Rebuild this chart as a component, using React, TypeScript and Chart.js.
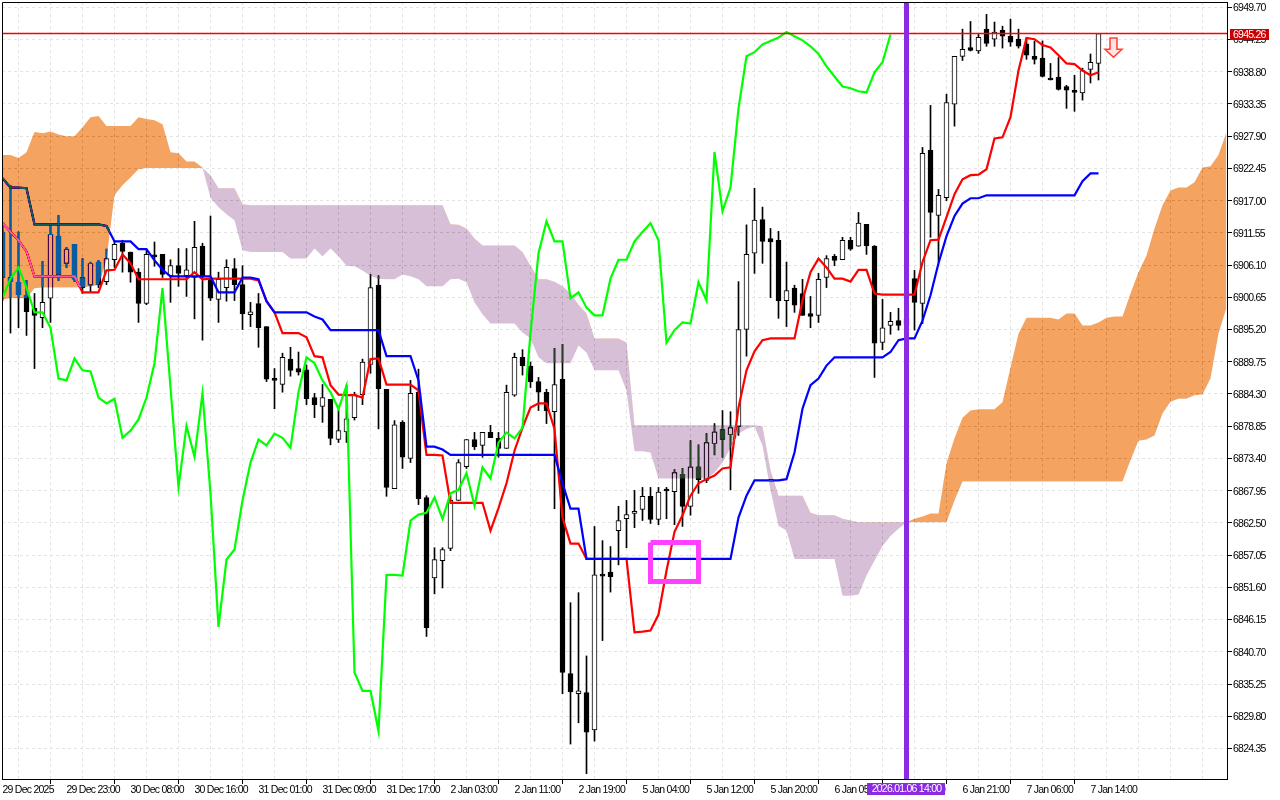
// App.tsx - ichimoku candle chart in a terminal look
import React, { useEffect, useRef } from 'react';
import { Chart, registerables } from 'chart.js';

Chart.register(...registerables);

const opens = [
  6911.7,6904.0,6903.2,6901.0,6898.8,6897.2,6900.5,6911.0,6906.4,6909.6,
  6904.0,6902.7,6906.6,6903.3,6907.0,6909.8,6908.3,6904.9,6899.6,6907.6,
  6907.9,6904.3,6906.0,6904.3,6904.0,6909.3,6903.8,6900.3,6902.3,6905.5,
  6902.8,6897.7,6899.6,6895.7,6886.8,6885.9,6890.2,6888.6,6888.4,6883.7,
  6882.2,6883.4,6876.6,6877.9,6880.3,6884.2,6889.3,6902.7,6885.1,6868.3,
  6879.5,6873.4,6884.6,6866.8,6853.2,6856.1,6858.2,6866.3,6872.0,6876.6,
  6875.6,6877.8,6876.8,6875.1,6884.1,6890.5,6889.0,6886.4,6884.6,6881.3,
  6886.8,6837.0,6833.6,6833.8,6827.5,6853.6,6854.2,6861.2,6863.2,6864.1,
  6864.8,6867.0,6863.1,6868.1,6867.8,6870.7,6865.3,6872.0,6869.7,6875.9,
  6878.3,6877.4,6878.8,6895.2,6908.1,6913.8,6910.6,6910.3,6900.1,6902.2,
  6901.3,6897.9,6897.6,6904.0,6907.6,6907.0,6910.3,6909.3,6913.0,6909.3,
  6893.0,6895.9,6896.7,6896.0,6903.8,6899.6,6925.5,6914.5,6917.5,6933.3,
  6941.4,6942.9,6942.3,6946.0,6944.3,6945.8,6944.8,6944.3,6943.5,6941.4,
  6941.1,6937.7,6937.9,6936.3,6935.5,6935.2,6939.2,6940.2,
];
const highs = [
  6912.9,6919.6,6911.7,6903.5,6901.3,6906.7,6912.9,6914.5,6909.1,6909.6,
  6907.2,6906.6,6906.9,6908.8,6910.3,6910.3,6908.3,6905.5,6908.6,6910.0,
  6907.9,6907.0,6908.9,6908.9,6913.5,6909.8,6914.4,6904.9,6907.0,6907.2,
  6906.0,6899.8,6901.3,6895.7,6888.6,6891.2,6892.2,6891.4,6889.2,6884.4,
  6885.9,6883.4,6881.7,6885.8,6884.6,6890.2,6904.5,6904.3,6885.1,6879.8,
  6879.8,6886.6,6888.5,6867.1,6858.3,6858.3,6867.1,6873.2,6876.6,6877.8,
  6877.8,6879.0,6877.8,6885.8,6891.2,6891.8,6889.7,6887.1,6885.1,6892.0,
  6892.7,6849.0,6850.7,6840.0,6861.9,6859.5,6858.5,6865.3,6866.3,6868.0,
  6868.5,6868.5,6868.5,6868.5,6871.5,6871.7,6876.4,6875.7,6877.6,6879.3,
  6881.5,6881.3,6903.3,6912.9,6919.1,6915.9,6912.3,6911.8,6906.6,6902.7,
  6903.7,6900.8,6904.7,6907.7,6907.9,6910.8,6910.8,6915.0,6913.0,6909.4,
  6900.3,6898.1,6898.8,6899.0,6905.2,6926.0,6933.1,6918.9,6935.0,6941.4,
  6946.0,6947.3,6945.1,6948.5,6947.2,6946.5,6947.7,6946.0,6944.5,6944.0,
  6944.0,6940.2,6941.2,6936.5,6938.2,6939.4,6941.8,6945.26,
];
const lows = [
  6900.1,6894.6,6895.5,6894.2,6888.6,6895.5,6896.4,6903.5,6905.7,6903.3,
  6901.3,6901.5,6902.3,6902.8,6905.7,6904.9,6903.2,6896.4,6899.4,6905.9,
  6904.0,6899.8,6902.5,6900.8,6897.0,6893.4,6900.1,6896.4,6900.0,6900.1,
  6895.2,6895.7,6892.2,6886.4,6881.8,6884.6,6887.3,6887.5,6882.5,6880.3,
  6879.5,6875.7,6876.1,6876.1,6879.9,6882.5,6887.8,6878.4,6867.0,6868.3,
  6871.7,6872.7,6865.6,6843.3,6850.5,6851.5,6857.8,6866.3,6871.7,6874.9,
  6873.6,6876.9,6873.6,6875.1,6883.9,6887.5,6885.4,6881.5,6879.3,6864.9,
  6833.6,6825.1,6828.7,6820.1,6825.6,6842.6,6850.8,6855.4,6858.3,6861.7,
  6862.9,6862.4,6862.2,6863.2,6862.2,6861.9,6863.8,6867.5,6869.3,6874.0,
  6873.6,6868.1,6877.3,6890.7,6904.7,6906.4,6900.6,6897.1,6895.7,6898.1,
  6897.6,6895.5,6896.4,6902.3,6906.0,6907.0,6908.6,6909.3,6907.9,6887.1,
  6891.8,6894.4,6895.1,6894.0,6895.1,6896.2,6910.8,6906.6,6917.0,6929.6,
  6940.7,6942.3,6941.9,6943.1,6943.1,6942.8,6943.1,6942.8,6940.9,6940.1,
  6937.9,6937.4,6935.7,6932.6,6932.1,6934.0,6936.9,6937.4,
];
const closes = [
  6904.0,6903.3,6901.1,6898.2,6897.6,6899.8,6911.3,6904.5,6908.8,6903.7,
  6902.3,6906.4,6902.8,6907.2,6909.6,6908.4,6904.9,6899.6,6907.9,6907.5,
  6904.5,6906.0,6904.7,6905.3,6909.1,6904.3,6900.5,6903.7,6905.7,6902.8,
  6897.9,6898.2,6895.5,6886.8,6886.6,6890.5,6888.3,6888.0,6883.5,6882.5,
  6883.7,6876.8,6878.1,6880.1,6884.2,6889.7,6902.3,6885.2,6868.5,6879.1,
  6873.6,6884.4,6866.6,6844.8,6856.3,6858.0,6866.3,6872.7,6876.6,6875.4,
  6877.8,6876.9,6875.1,6884.6,6890.5,6889.1,6886.4,6884.6,6881.5,6885.9,
  6837.2,6833.9,6834.1,6827.1,6853.7,6853.5,6853.4,6862.9,6863.9,6864.4,
  6867.0,6863.1,6867.7,6867.9,6871.0,6865.3,6872.0,6869.8,6876.1,6877.9,
  6876.6,6878.6,6895.2,6907.9,6913.7,6910.1,6910.0,6900.1,6901.8,6899.3,
  6897.6,6897.4,6903.7,6907.2,6906.9,6910.3,6908.8,6913.2,6909.4,6892.9,
  6895.5,6896.6,6895.9,6897.0,6899.8,6925.0,6915.0,6917.9,6933.6,6941.4,
  6942.6,6942.4,6944.6,6943.6,6945.5,6944.8,6943.8,6943.1,6941.6,6940.9,
  6938.0,6937.4,6935.8,6935.7,6935.3,6939.0,6940.4,6945.26,
];

const tenkan = [
  6913.2,6911.7,6910.3,6908.4,6904.2,6904.2,6904.2,6904.2,6904.2,6904.2,
  6901.5,6901.5,6901.5,6905.2,6905.3,6907.9,6906.4,6903.7,6903.7,6903.7,
  6903.7,6903.7,6903.7,6903.7,6904.9,6903.7,6903.8,6903.8,6903.8,6903.8,
  6903.8,6903.8,6903.5,6900.0,6898.1,6894.6,6894.6,6894.6,6893.9,6890.7,
  6890.5,6885.8,6884.2,6884.1,6884.1,6883.7,6890.2,6890.3,6885.9,6885.9,
  6885.9,6885.9,6884.9,6874.0,6874.0,6873.9,6865.9,6865.9,6865.9,6865.9,
  6865.9,6861.2,6865.0,6869.2,6874.7,6878.6,6882.0,6882.7,6882.7,6878.4,
  6863.4,6859.0,6859.0,6856.4,6856.4,6856.4,6856.4,6856.4,6856.4,6844.0,
  6844.1,6844.3,6847.0,6854.4,6861.0,6863.8,6867.1,6869.2,6869.9,6870.5,
  6871.7,6871.9,6882.0,6888.3,6891.5,6893.4,6893.7,6893.7,6893.7,6893.7,
  6900.1,6904.9,6907.2,6905.7,6903.8,6903.8,6903.3,6905.3,6905.3,6901.3,
  6901.1,6901.1,6901.1,6901.1,6901.1,6906.6,6910.3,6910.4,6914.2,6918.1,
  6920.6,6921.3,6921.4,6922.3,6927.5,6927.7,6931.1,6939.0,6944.5,6944.3,
  6943.3,6942.9,6941.6,6940.2,6940.1,6939.0,6938.2,6938.7,
];
const kijun = [
  6920.8,6919.2,6919.2,6919.1,6913.0,6913.0,6913.0,6913.0,6913.0,6913.0,
  6913.0,6913.0,6913.0,6912.7,6910.1,6910.1,6910.1,6908.8,6908.8,6906.9,
  6905.3,6904.2,6904.2,6904.2,6904.2,6904.2,6904.2,6901.5,6901.5,6901.5,
  6904.0,6904.0,6903.7,6900.0,6898.1,6898.1,6898.1,6898.1,6898.1,6897.4,
  6896.9,6895.1,6895.1,6895.1,6895.1,6895.1,6895.1,6895.1,6890.7,6890.7,
  6890.7,6890.7,6886.6,6875.4,6875.4,6874.9,6874.0,6874.0,6874.0,6874.0,
  6874.0,6874.0,6874.0,6874.0,6874.0,6874.0,6874.0,6874.0,6874.0,6874.0,
  6869.2,6864.9,6864.9,6856.4,6856.4,6856.4,6856.4,6856.4,6856.4,6856.4,
  6856.4,6856.4,6856.4,6856.4,6856.4,6856.4,6856.4,6856.4,6856.4,6856.4,
  6856.4,6856.4,6863.4,6867.1,6869.7,6869.7,6869.7,6869.7,6869.9,6874.4,
  6881.8,6885.8,6886.9,6889.1,6890.5,6890.5,6890.5,6890.5,6890.5,6890.5,
  6890.5,6891.4,6893.4,6893.7,6893.7,6896.7,6901.0,6906.4,6911.0,6914.4,
  6916.5,6917.4,6917.4,6917.9,6917.9,6917.9,6917.9,6917.9,6917.9,6917.9,
  6917.9,6917.9,6917.9,6917.9,6917.9,6920.3,6921.6,6921.6,
];
const chikou = [
  6900.6,6903.8,6905.7,6902.3,6898.1,6898.1,6895.5,6886.9,6886.6,6890.3,
  6888.3,6888.1,6883.7,6882.7,6883.5,6876.9,6878.1,6880.0,6883.7,6889.5,
  6902.2,6885.4,6868.6,6878.9,6873.7,6884.4,6867.5,6844.9,6856.3,6858.0,
  6866.3,6872.7,6876.6,6875.6,6877.6,6876.9,6875.2,6884.6,6890.5,6889.5,
  6886.6,6884.6,6881.8,6885.7,6837.2,6834.1,6834.1,6827.3,6853.7,6853.7,
  6853.6,6862.9,6863.9,6864.2,6866.8,6863.2,6867.5,6868.1,6870.9,6865.4,
  6871.9,6870.0,6876.1,6877.8,6876.8,6878.6,6894.6,6908.1,6913.5,6910.1,
  6910.1,6900.5,6901.5,6898.9,6897.6,6897.6,6903.8,6907.0,6907.0,6910.1,
  6911.7,6913.2,6910.3,6893.0,6895.1,6896.4,6896.2,6903.2,6900.1,6925.2,
  6915.2,6919.2,6932.6,6941.4,6942.1,6943.4,6944.0,6944.6,6945.5,6944.8,
  6944.1,6943.1,6941.8,6939.7,6938.0,6936.3,6936.0,6935.5,6935.3,6938.7,
  6940.4,6945.1,
];
const spanA = [
  6924.7,6924.7,6924.2,6925.2,6928.6,6928.4,6928.7,6928.2,6927.9,6927.9,
  6929.4,6931.1,6931.3,6929.6,6929.6,6929.6,6929.6,6931.1,6930.8,6930.6,
  6929.9,6925.2,6925.0,6923.6,6923.6,6922.6,6917.5,6915.9,6914.7,6913.7,
  6908.6,6908.3,6908.3,6908.3,6908.3,6908.3,6907.2,6907.2,6907.2,6908.9,
  6907.6,6908.9,6907.6,6906.0,6905.9,6905.2,6904.3,6903.8,6903.7,6903.7,
  6904.5,6904.2,6903.7,6902.5,6902.5,6902.5,6903.7,6903.8,6903.2,6899.8,
  6897.8,6896.2,6896.2,6896.2,6896.2,6894.7,6893.7,6890.5,6889.5,6889.5,
  6889.5,6889.5,6892.5,6891.3,6888.3,6888.3,6888.3,6888.3,6884.9,6874.6,
  6874.6,6874.4,6870.0,6870.0,6870.0,6870.0,6870.0,6870.0,6870.0,6871.0,
  6872.7,6875.2,6877.6,6878.4,6878.8,6875.6,6868.0,6862.0,6861.2,6856.4,
  6856.4,6856.4,6856.4,6856.4,6856.4,6850.2,6850.2,6850.4,6853.6,6856.1,
  6858.6,6860.3,6861.5,6862.6,6863.2,6863.6,6864.1,6864.1,6872.6,6876.8,
  6880.3,6881.5,6881.7,6881.7,6881.7,6882.9,6888.8,6894.5,6897.2,6897.2,
  6897.2,6897.2,6896.9,6897.9,6897.9,6895.9,6895.9,6896.4,6897.2,6897.4,
  6897.4,6901.3,6904.9,6907.7,6912.3,6916.2,6918.7,6919.2,6919.2,6920.1,
  6922.6,6922.8,6924.7,6928.6,
];
const spanB = [
  6900.3,6900.5,6900.5,6900.5,6902.2,6902.3,6902.3,6902.3,6902.3,6902.3,
  6902.3,6902.5,6902.7,6906.9,6917.9,6919.6,6920.9,6922.3,6922.5,6922.5,
  6922.5,6922.5,6922.5,6922.5,6922.5,6922.5,6921.3,6919.1,6919.1,6919.1,
  6916.4,6916.2,6916.2,6916.2,6916.2,6916.2,6916.2,6916.2,6916.2,6916.2,
  6916.2,6916.2,6916.2,6916.2,6916.2,6916.2,6916.2,6916.2,6916.2,6916.2,
  6916.2,6916.2,6916.2,6916.2,6916.2,6916.2,6913.0,6912.9,6912.3,6910.6,
  6909.4,6909.4,6909.4,6909.4,6909.4,6908.3,6906.0,6903.7,6903.7,6903.3,
  6902.5,6901.3,6899.4,6897.9,6893.7,6893.7,6893.7,6893.7,6893.0,6879.0,
  6879.0,6879.0,6879.0,6879.0,6879.0,6879.0,6879.0,6879.0,6879.0,6879.0,
  6879.0,6879.0,6879.0,6879.0,6879.0,6878.8,6871.4,6867.1,6867.1,6867.1,
  6867.1,6864.2,6863.8,6863.8,6863.8,6863.2,6862.9,6862.6,6862.6,6862.6,
  6862.6,6862.6,6862.6,6862.6,6862.6,6862.6,6862.6,6862.6,6862.6,6866.3,
  6869.5,6869.5,6869.5,6869.5,6869.5,6869.5,6869.5,6869.5,6869.5,6869.5,
  6869.5,6869.5,6869.5,6869.5,6869.5,6869.5,6869.5,6869.5,6869.5,6869.5,
  6869.5,6873.1,6876.4,6876.6,6877.3,6881.0,6883.0,6883.5,6883.5,6884.1,
  6884.2,6886.9,6894.5,6898.9,
];

const xTickLabels = [
  '29 Dec 2025','29 Dec 23:00','30 Dec 08:00','30 Dec 16:00','31 Dec 01:00','31 Dec 09:00','31 Dec 17:00',
  '2 Jan 03:00','2 Jan 11:00','2 Jan 19:00','5 Jan 04:00','5 Jan 12:00','5 Jan 20:00','6 Jan 05:00',
  '6 Jan 13:00','6 Jan 21:00','7 Jan 06:00','7 Jan 14:00',
];
const yTickValues = [
  6949.7,6944.25,6938.8,6933.35,6927.9,6922.45,6917.0,6911.55,6906.1,6900.65,6895.2,6889.75,
  6884.3,6878.85,6873.4,6867.95,6862.5,6857.05,6851.6,6846.15,6840.7,6835.25,6829.8,6824.35,
];

const lastPrice = 6945.26;
const markerBar = 113;
const markerLabel = '2026.01.06 14:00';
const boxBars = [81, 87];
const boxPrices = [6859.2, 6852.6];
const arrowBars = [138.44,139.31,139.31,139.94,138.875,137.81,138.44];
const arrowPrices = [6944.5,6944.5,6942.6,6942.6,6941.25,6942.6,6942.6];

const PRICE_MIN = 6819.19;
const PRICE_MAX = 6950.59;
const BAR_MIN = -0.0625;
const BAR_MAX = 153.0625;
const FONT = '"Liberation Sans", sans-serif';

const toPoints = (values: number[]) => values.map((v, i) => ({ x: i, y: v }));

const lineDs = (label: string, data: any[], color: string, width: number, order: number) => ({
  type: 'line' as const,
  label,
  data,
  borderColor: color,
  backgroundColor: color,
  borderWidth: width,
  pointRadius: 0,
  tension: 0,
  fill: false,
  order,
});

// the terminal draws the cloud by xor-ing pixels; difference blending gives the same colours
const terminalPlugin = {
  id: 'terminal',
  beforeDraw(chart: any) {
    const ctx = chart.ctx;
    ctx.save();
    ctx.fillStyle = '#ffffff';
    ctx.fillRect(0, 0, chart.width, chart.height);
    ctx.restore();
    ctx.letterSpacing = '-0.75px'; // narrows the labels to the terminal's font width
  },
  afterDatasetDraw(chart: any, args: any) {
    const label = chart.data.datasets[args.index].label;
    if (label === 'kijun') chart.ctx.globalCompositeOperation = 'difference';
    if (label === 'spanA') chart.ctx.globalCompositeOperation = 'source-over';
  },
  afterDatasetsDraw(chart: any) {
    const { ctx, scales } = chart;
    ctx.save();
    ctx.beginPath();
    arrowBars.forEach((b, i) => {
      const px = scales.x.getPixelForValue(b);
      const py = scales.y.getPixelForValue(arrowPrices[i]);
      if (i === 0) ctx.moveTo(px, py);
      else ctx.lineTo(px, py);
    });
    ctx.closePath();
    ctx.fillStyle = '#ffe4e4';
    ctx.fill();
    ctx.strokeStyle = '#ff4030';
    ctx.lineWidth = 1.5;
    ctx.stroke();
    ctx.restore();
  },
  afterDraw(chart: any) {
    const { ctx, scales } = chart;
    ctx.save();
    ctx.strokeStyle = '#000000';
    ctx.lineWidth = 1;
    ctx.beginPath();
    ctx.moveTo(2.5, 779.5);
    ctx.lineTo(2.5, 2.5);
    ctx.lineTo(1227.5, 2.5);
    ctx.stroke();

    ctx.font = '10.5px ' + FONT;
    ctx.textBaseline = 'middle';
    const py = scales.y.getPixelForValue(lastPrice);
    ctx.fillStyle = '#cc0000';
    ctx.fillRect(1230, Math.round(py) - 5, 39, 11);
    ctx.fillStyle = '#ffffff';
    ctx.textAlign = 'left';
    ctx.fillText(lastPrice.toFixed(2), 1233, Math.round(py) + 1);

    const mx = scales.x.getPixelForValue(markerBar);
    ctx.fillStyle = '#8a2be2';
    ctx.fillRect(mx - 39.5, 783, 78, 12);
    ctx.fillStyle = '#ffffff';
    ctx.textAlign = 'center';
    ctx.fillText(markerLabel, mx, 789.5);
    ctx.restore();
  },
};

const App: React.FC = () => {
  const canvasRef = useRef<HTMLCanvasElement>(null);

  useEffect(() => {
    if (!canvasRef.current) return;
    const wicks = highs.map((h, i) => ({ x: i, y: [lows[i], h] }));
    const bodies = opens.map((o, i) => ({ x: i, y: [o, closes[i]] }));
    const boxLine = [
      { x: boxBars[0], y: boxPrices[0] },
      { x: boxBars[1], y: boxPrices[0] },
      { x: boxBars[1], y: boxPrices[1] },
      { x: boxBars[0], y: boxPrices[1] },
      { x: boxBars[0], y: boxPrices[0] },
    ];

    const chart = new Chart(canvasRef.current, {
      type: 'bar',
      data: {
        datasets: [
          {
            label: 'wicks',
            data: wicks,
            backgroundColor: '#000000',
            borderWidth: 0,
            barThickness: 1,
            grouped: false,
            order: 100,
          },
          {
            label: 'bodies',
            data: bodies,
            backgroundColor: opens.map((o, i) => (closes[i] >= o ? '#ffffff' : '#000000')),
            borderColor: '#000000',
            borderWidth: 1,
            borderSkipped: false,
            barThickness: 5,
            minBarLength: 2,
            grouped: false,
            order: 99,
          },
          lineDs('tenkan', toPoints(tenkan), '#ff0000', 2.2, 90),
          lineDs('kijun', toPoints(kijun), '#0000ff', 2.2, 89),
          {
            ...lineDs('spanA', toPoints(spanA), 'rgba(0,0,0,0)', 0, 80),
            fill: { target: '+1', above: 'rgb(11,91,159)', below: 'rgb(39,64,39)' },
          },
          lineDs('spanB', toPoints(spanB), 'rgba(0,0,0,0)', 0, 79),
          lineDs('chikou', toPoints(chikou), '#00ff00', 2.2, 70),
          lineDs('last', [{ x: BAR_MIN, y: lastPrice }, { x: BAR_MAX, y: lastPrice }], '#ff0000', 1.4, 60),
          lineDs('marker', [{ x: markerBar, y: PRICE_MIN }, { x: markerBar, y: PRICE_MAX }], '#8a2be2', 5, 59),
          lineDs('box', boxLine, '#ff40ff', 5, 58),
        ],
      } as any,
      plugins: [terminalPlugin],
      options: {
        responsive: false,
        animation: false,
        devicePixelRatio: 1,
        layout: { autoPadding: false, padding: { left: 2, top: 2, right: 0, bottom: 0 } },
        plugins: {
          legend: { display: false },
          tooltip: { enabled: false },
          title: { display: false },
        },
        scales: {
          x: {
            type: 'linear',
            offset: false,
            min: BAR_MIN,
            max: BAR_MAX,
            bounds: 'data',
            afterFit: (s: any) => {
              s.height = 21;
              s.paddingLeft = 0;
              s.paddingRight = 0;
            },
            afterBuildTicks: (s: any) => {
              const t = [];
              for (let i = 0; i <= 152; i += 4) t.push({ value: i });
              s.ticks = t;
            },
            grid: {
              color: '#e4e4e4',
              tickLength: 5,
              tickColor: (c: any) => (c.tick && c.tick.label ? '#000000' : 'rgba(0,0,0,0)'),
            },
            border: { display: true, color: '#000000', dash: [3, 3] },
            ticks: {
              autoSkip: false,
              maxRotation: 0,
              minRotation: 0,
              align: 'start',
              padding: 0,
              color: '#000000',
              font: { family: FONT, size: 10.5 },
              callback: (v: any) => (v % 8 === 0 && xTickLabels[v / 8] ? xTickLabels[v / 8] : ''),
            },
          },
          y: {
            type: 'linear',
            position: 'right',
            min: PRICE_MIN,
            max: PRICE_MAX,
            bounds: 'data',
            afterFit: (s: any) => {
              s.width = 53;
              s.paddingTop = 0;
              s.paddingBottom = 0;
            },
            afterBuildTicks: (s: any) => {
              s.ticks = yTickValues.map((v) => ({ value: v }));
            },
            grid: { color: '#e4e4e4', tickLength: 5, tickColor: '#000000' },
            border: { display: true, color: '#000000', dash: [3, 3] },
            ticks: {
              autoSkip: false,
              padding: 1,
              labelOffset: 1,
              color: '#000000',
              font: { family: FONT, size: 10.5 },
              callback: (v: any) => Number(v).toFixed(2),
            },
          },
        },
      } as any,
    });

    return () => {
      chart.destroy();
    };
  }, []);

  return (
    <div style={{ position: 'absolute', left: 0, top: 0, width: 1280, height: 800, background: '#fff' }}>
      <canvas ref={canvasRef} width={1280} height={800} style={{ display: 'block' }} />
    </div>
  );
};

export default App;
